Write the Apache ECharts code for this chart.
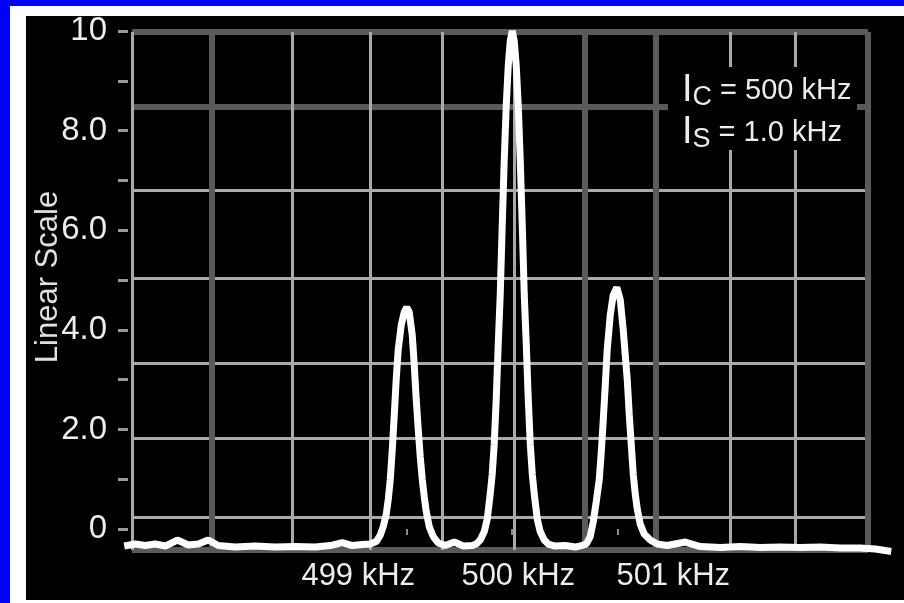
<!DOCTYPE html>
<html>
<head>
<meta charset="utf-8">
<script src="https://cdn.jsdelivr.net/npm/echarts@6/dist/echarts.min.js"></script>
<style>
html, body { margin: 0; padding: 0; }
body { width: 904px; height: 603px; background: #0000ff; position: relative; overflow: hidden; }
#frame { position: absolute; left: 10px; top: 6px; width: 894px; height: 597px; background: #fff; }
#inner { position: absolute; left: 26px; top: 16px; width: 878px; height: 584px; background: #000; }
#chart { position: absolute; left: 0; top: 0; width: 904px; height: 603px; }
</style>
</head>
<body>
<div id="frame"></div>
<div id="inner"></div>
<div id="chart"></div>
<script>
// spectrum trace (frequency in kHz, linear scale)
var freqs = [
    496.322, 496.427, 496.521, 496.616, 496.711, 496.825, 496.929, 497.024, 497.118, 497.213,
    497.374, 497.564, 497.754, 497.943, 498.133, 498.275, 498.389, 498.483, 498.578, 498.654,
    498.711, 498.749, 498.777, 498.806, 498.825, 498.844, 498.863, 498.882, 498.900, 498.919,
    498.948, 498.976, 499.000, 499.024, 499.052, 499.071, 499.090, 499.109, 499.128, 499.147,
    499.166, 499.185, 499.213, 499.251, 499.299, 499.365, 499.450, 499.536, 499.621, 499.659,
    499.697, 499.735, 499.763, 499.791, 499.810, 499.829, 499.848, 499.867, 499.886, 499.905,
    499.924, 499.943, 499.962, 499.981, 500.000, 500.019, 500.038, 500.057, 500.076, 500.095,
    500.114, 500.133, 500.152, 500.171, 500.190, 500.209, 500.237, 500.265, 500.303, 500.341,
    500.408, 500.502, 500.597, 500.654, 500.701, 500.739, 500.768, 500.796, 500.825, 500.844,
    500.863, 500.882, 500.900, 500.929, 500.957, 500.991, 501.024, 501.052, 501.071, 501.090,
    501.109, 501.128, 501.147, 501.166, 501.185, 501.213, 501.251, 501.308, 501.374, 501.469,
    501.640, 501.782, 501.972, 502.161, 502.351, 502.540, 502.730, 502.919, 503.109, 503.299,
    503.441, 503.536, 503.592
];
var levels = [
    -0.34, -0.30, -0.33, -0.30, -0.34, -0.22, -0.32, -0.30, -0.22, -0.33,
    -0.36, -0.34, -0.36, -0.35, -0.36, -0.33, -0.27, -0.33, -0.31, -0.30,
    -0.25, -0.12, 0.05, 0.30, 0.60, 1.00, 1.60, 2.30, 3.00, 3.60,
    4.10, 4.35, 4.45, 4.35, 3.90, 3.30, 2.60, 2.00, 1.45, 1.00,
    0.65, 0.35, 0.05, -0.15, -0.28, -0.33, -0.26, -0.34, -0.33, -0.30,
    -0.22, -0.05, 0.20, 0.70, 1.10, 1.70, 2.60, 3.70, 4.70, 6.10,
    7.40, 8.50, 9.30, 9.80, 10.00, 9.80, 9.30, 8.50, 7.40, 6.10,
    4.70, 3.70, 2.60, 1.70, 1.10, 0.70, 0.20, -0.05, -0.22, -0.30,
    -0.34, -0.33, -0.36, -0.33, -0.30, -0.15, 0.15, 0.55, 1.00, 1.55,
    2.20, 2.90, 3.60, 4.30, 4.70, 4.85, 4.60, 4.00, 3.50, 3.00,
    2.30, 1.70, 1.10, 0.70, 0.40, 0.10, -0.10, -0.22, -0.30, -0.33,
    -0.26, -0.35, -0.37, -0.35, -0.37, -0.36, -0.37, -0.36, -0.38, -0.38,
    -0.40, -0.43, -0.45
];

var yLabelValues = [0, 2, 4, 6, 8, 10];
var yTickValues = [0, 1, 2, 3, 4, 5, 6, 7, 8, 9, 10];
var xLabelValues = [499, 500, 501];

// the scope graticule does not line up with the scale, so it gets its own grid
var gratXDark = [497.156, 500.692, 501.365, 503.374];
var gratXLight = [496.398, 497.915, 498.654, 499.336, 500.019, 502.066, 502.682];
var gratYDark = [-0.42, 8.47, 9.98];
var gratYLight = [0.24, 1.83, 3.33, 5.04, 6.81];

var noteSubs = ['C', 'S'];
var noteValues = ['500 kHz', '1.0 kHz'];

var narrow = '"Liberation Sans Narrow", "Liberation Sans", Arial, sans-serif';
var txtColor = '#ececec';

var chart = echarts.init(document.getElementById('chart'));

function gratAxis(values, color, width, min, max) {
    return {
        gridIndex: 1, type: 'value', min: min, max: max,
        axisLine: { show: false },
        axisLabel: { show: false },
        axisTick: { show: false, customValues: values },
        splitLine: { show: true, lineStyle: { color: color, width: width } }
    };
}

var noteText = noteSubs.map(function (s, i) {
    return '{i|I}{s|' + s + '}{t| = ' + noteValues[i] + '}';
}).join('\n');

var xRich = { color: txtColor, fontSize: 31, fontFamily: narrow };

var option = {
    backgroundColor: 'transparent',
    animation: false,
    grid: [
        { left: 124, right: 13, top: 31, bottom: 49 },
        { left: 132, right: 36, top: 32, bottom: 53 }
    ],
    xAxis: [
        {
            gridIndex: 0, type: 'value', min: 496.32, max: 503.59,
            axisLine: { show: false },
            splitLine: { show: false },
            axisTick: { customValues: xLabelValues, length: 6, lineStyle: { color: '#888', width: 2 } },
            axisLabel: {
                customValues: xLabelValues, margin: 7,
                color: txtColor, fontSize: 31, fontFamily: narrow,
                formatter: function (v) { return '{k' + (v - 498) + '|' + v + ' kHz}'; },
                rich: {
                    k1: echarts.util.extend({ padding: [0, 97, 0, 0] }, xRich),
                    k2: echarts.util.extend({ padding: [0, 0, 0, 12] }, xRich),
                    k3: echarts.util.extend({ padding: [0, 0, 0, 111] }, xRich)
                }
            }
        },
        gratAxis(gratXLight, '#a9a9a9', 3, 496.398, 503.374),
        gratAxis(gratXDark, '#5a5a5a', 6, 496.398, 503.374)
    ],
    yAxis: [
        {
            gridIndex: 0, type: 'value', min: -0.5, max: 10, offset: -4,
            axisLine: { show: false },
            splitLine: { show: false },
            axisTick: { customValues: yTickValues, length: 10, lineStyle: { color: '#9a9a9a', width: 3 } },
            axisLabel: {
                customValues: yLabelValues, margin: 21,
                color: txtColor, fontSize: 33, fontFamily: narrow,
                formatter: function (v) { return (v === 0 || v === 10) ? String(v) : v.toFixed(1); }
            },
            name: 'Linear Scale', nameLocation: 'middle', nameRotate: 90, nameGap: 64,
            nameMoveOverlap: false,
            nameTextStyle: { color: '#e0e0e0', fontSize: 31, fontFamily: narrow, padding: [0, 0, 0, 31] }
        },
        gratAxis(gratYLight, '#a9a9a9', 3, -0.42, 9.98),
        gratAxis(gratYDark, '#5a5a5a', 6, -0.42, 9.98)
    ],
    graphic: [
        { type: 'rect', left: 668, top: 67, z: 10, shape: { width: 189, height: 83 }, style: { fill: '#000' } },
        {
            type: 'text', left: 682, top: 70, z: 11,
            style: {
                text: noteText, fill: txtColor,
                rich: {
                    i: { fontSize: 38, fontFamily: narrow, fill: txtColor, lineHeight: 42 },
                    s: { fontSize: 27, fontFamily: narrow, fill: txtColor, lineHeight: 42, padding: [14, 0, 0, 0] },
                    t: { fontSize: 29, fontFamily: narrow, fill: txtColor, lineHeight: 42 }
                }
            }
        }
    ],
    series: [
        {
            type: 'line', xAxisIndex: 0, yAxisIndex: 0,
            data: freqs.map(function (f, i) { return [f, levels[i]]; }),
            symbol: 'none', clip: false,
            lineStyle: { color: '#ffffff', width: 7 }
        }
    ]
};

chart.setOption(option);
</script>
</body>
</html>
